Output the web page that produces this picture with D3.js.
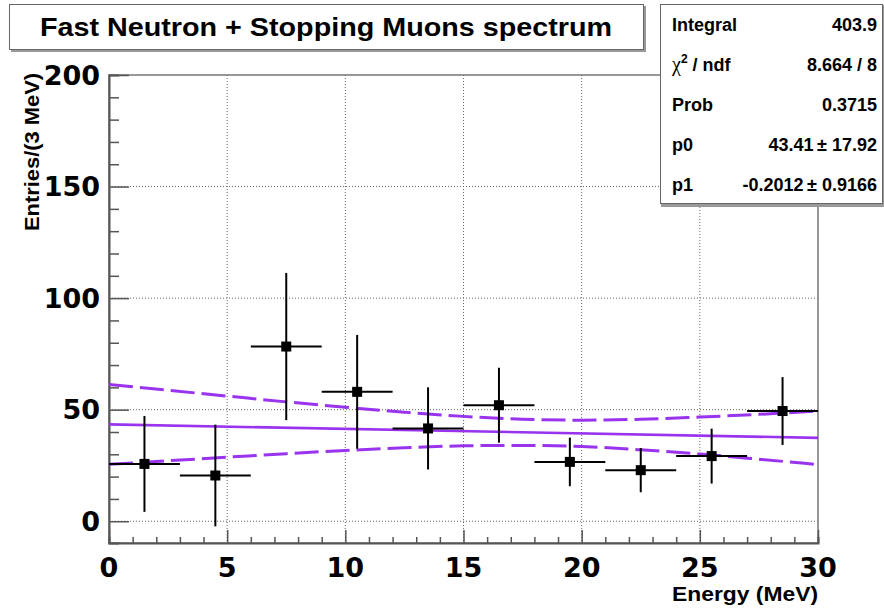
<!DOCTYPE html>
<html><head><meta charset="utf-8">
<script src="https://cdn.jsdelivr.net/npm/d3@7"></script>
<style>
html,body{margin:0;padding:0;background:#fff;}
svg{display:block;}
</style></head>
<body>
<script>
// ---- data ----
const title = "Fast Neutron + Stopping Muons spectrum";
const xTitle = "Energy (MeV)";
const yTitle = "Entries/(3 MeV)";
const binCenters = [1.5, 4.5, 7.5, 10.5, 13.5, 16.5, 19.5, 22.5, 25.5, 28.5];
const binWidth = 3;
const counts = [25.7, 20.5, 78.3, 58.0, 41.6, 52.0, 26.6, 22.9, 29.2, 49.4];
const errors = [21.5, 22.8, 33.0, 25.5, 18.4, 16.8, 10.9, 9.9, 12.3, 15.2];
const fitX = [0, 30];
const fitY = [43.41, 37.37];
const bandX = [0, 2.5, 5, 7.5, 10, 12.5, 15, 17.5, 20, 22.5, 25, 27.5, 30];
const bandUpper = [61.3, 58.7, 56.1, 53.5, 51.1, 48.9, 47.0, 45.7, 45.3, 45.7, 46.7, 47.9, 49.4];
const bandLower = [25.5, 27.1, 28.7, 30.3, 31.7, 32.9, 33.8, 34.0, 33.5, 32.0, 30.1, 27.8, 25.4];
const xTicks = [0, 5, 10, 15, 20, 25, 30];
const yTicks = [0, 50, 100, 150, 200];
const statLabels = ["Integral", "chi2", "Prob", "p0", "p1"];
const statValues = ["403.9", "8.664 / 8", "0.3715", "43.41\u2009\u00b1 17.92", "-0.2012\u2009\u00b1 0.9166"];

// ---- layout ----
const W = 884, H = 613;
const L = 109, R = 818, T = 75, B = 543;
const purple = "#9933ee";

const svg = d3.select("body").append("svg").attr("width", W).attr("height", H);

const x = d3.scaleLinear().domain([0, 30]).range([L, R]);
const y = d3.scaleLinear().domain([-9.75, 200]).range([B, T]);

// grid
const grid = svg.append("g").attr("stroke", "#666").attr("stroke-width", 1).attr("stroke-dasharray", "1,2");
grid.selectAll("line.gx").data(xTicks.filter(d => d > 0 && d < 30)).join("line")
  .attr("x1", d => x(d)).attr("x2", d => x(d)).attr("y1", T).attr("y2", B);
grid.selectAll("line.gy").data(yTicks.filter(d => d < 200)).join("line")
  .attr("y1", d => y(d)).attr("y2", d => y(d)).attr("x1", L).attr("x2", R);

// frame
svg.append("rect").attr("x", L).attr("y", T).attr("width", R - L).attr("height", B - T)
  .attr("fill", "none").attr("stroke", "#777").attr("stroke-width", 1.5);

// axes via d3 axis (ticks drawn inside)
const xMinor = d3.range(0, 31, 1);
const yMinor = d3.range(0, 201, 10);
const axX = svg.append("g").attr("transform", `translate(0,${B})`);
axX.call(d3.axisTop(x).tickValues(xMinor).tickSize(6).tickFormat(""));
axX.selectAll(".tick line").attr("stroke", "#555").attr("stroke-width", 1.5)
  .attr("y2", d => (d % 5 === 0 ? -13 : -6));
axX.select(".domain").attr("stroke", "#555").attr("stroke-width", 2);

const axY = svg.append("g").attr("transform", `translate(${L},0)`);
axY.call(d3.axisRight(y).tickValues(yMinor).tickSize(10).tickFormat(""));
axY.selectAll(".tick line").attr("stroke", "#555").attr("stroke-width", 1.5)
  .attr("x2", d => (d % 50 === 0 ? 20 : 10));
axY.select(".domain").attr("stroke", "#555").attr("stroke-width", 2);

// tick labels
const tickFont = "'DejaVu Sans', sans-serif";
svg.append("g").selectAll("text").data(xTicks).join("text")
  .attr("x", d => x(d)).attr("y", 577).attr("text-anchor", "middle")
  .attr("font-family", tickFont).attr("font-weight", "bold").attr("font-size", 27)
  .text(d => d);
svg.append("g").selectAll("text").data(yTicks).join("text")
  .attr("x", 100).attr("y", d => y(d)).attr("dy", "0.36em").attr("text-anchor", "end")
  .attr("font-family", tickFont).attr("font-weight", "bold").attr("font-size", 27)
  .text(d => d);

// axis titles
const helv = "'Liberation Sans', Arial, sans-serif";
svg.append("text").attr("x", R).attr("y", 601).attr("text-anchor", "end")
  .attr("font-family", helv).attr("font-weight", "bold").attr("font-size", 21)
  .attr("textLength", 146).attr("lengthAdjust", "spacingAndGlyphs")
  .text(xTitle);
svg.append("text").attr("transform", "translate(39,73) rotate(-90)").attr("text-anchor", "end")
  .attr("font-family", helv).attr("font-weight", "bold").attr("font-size", 20)
  .attr("textLength", 158).attr("lengthAdjust", "spacingAndGlyphs")
  .text(yTitle);

// fit bands and line
const lineGen = d3.line().x(d => x(d[0])).y(d => y(d[1])).curve(d3.curveMonotoneX);
svg.append("clipPath").attr("id", "clipP").append("rect")
  .attr("x", L).attr("y", T).attr("width", R - L).attr("height", B - T);
const plot = svg.append("g").attr("clip-path", "url(#clipP)");
plot.append("path").datum(bandX.map((v, i) => [v, bandUpper[i]])).attr("d", lineGen)
  .attr("fill", "none").attr("stroke", purple).attr("stroke-width", 3).attr("stroke-dasharray", "24,7");
plot.append("path").datum(bandX.map((v, i) => [v, bandLower[i]])).attr("d", lineGen)
  .attr("fill", "none").attr("stroke", purple).attr("stroke-width", 3).attr("stroke-dasharray", "24,7");
plot.append("path").datum(fitX.map((v, i) => [v, fitY[i]])).attr("d", lineGen)
  .attr("fill", "none").attr("stroke", purple).attr("stroke-width", 2.6);

// data points
const pts = binCenters.map((c, i) => ({c, v: counts[i], e: errors[i]}));
const pg = plot.append("g");
pg.selectAll("line.h").data(pts).join("line")
  .attr("x1", d => x(d.c - binWidth / 2)).attr("x2", d => x(d.c + binWidth / 2))
  .attr("y1", d => y(d.v)).attr("y2", d => y(d.v))
  .attr("stroke", "#000").attr("stroke-width", 2);
pg.selectAll("line.v").data(pts).join("line")
  .attr("x1", d => x(d.c)).attr("x2", d => x(d.c))
  .attr("y1", d => y(d.v - d.e)).attr("y2", d => y(d.v + d.e))
  .attr("stroke", "#000").attr("stroke-width", 2);
pg.selectAll("rect").data(pts).join("rect")
  .attr("x", d => x(d.c) - 5).attr("y", d => y(d.v) - 5).attr("width", 10).attr("height", 10)
  .attr("fill", "#000");

// title box
svg.append("rect").attr("x", 11).attr("y", 6).attr("width", 635).attr("height", 46).attr("fill", "#999");
svg.append("rect").attr("x", 9.5).attr("y", 4.5).attr("width", 634).attr("height", 45)
  .attr("fill", "#fff").attr("stroke", "#666").attr("stroke-width", 1);
svg.append("text").attr("x", 326).attr("y", 36).attr("text-anchor", "middle")
  .attr("font-family", helv).attr("font-weight", "bold").attr("font-size", 26)
  .attr("textLength", 572).attr("lengthAdjust", "spacingAndGlyphs")
  .text(title);

// stats box
svg.append("rect").attr("x", 661).attr("y", 5).attr("width", 224).attr("height", 202).attr("fill", "#999");
svg.append("rect").attr("x", 660.5).attr("y", 4.5).attr("width", 222).attr("height", 199)
  .attr("fill", "#fff").attr("stroke", "#666").attr("stroke-width", 1);
const sg = svg.append("g").attr("font-family", helv).attr("font-weight", "bold").attr("font-size", 18);
statLabels.forEach((lab, i) => {
  const yy = 31 + i * 40;
  const t = sg.append("text").attr("x", 672).attr("y", yy);
  if (lab === "chi2") {
    t.append("tspan").attr("font-family", "'Liberation Serif', serif").attr("font-weight", "normal").attr("font-size", 20).text("\u03c7");
    t.append("tspan").attr("font-size", 12).attr("dy", -8).text("2");
    t.append("tspan").attr("dy", 8).text(" / ndf");
  } else {
    t.text(lab);
  }
  sg.append("text").attr("x", 877).attr("y", yy).attr("text-anchor", "end").text(statValues[i]);
});
</script>
</body></html>
